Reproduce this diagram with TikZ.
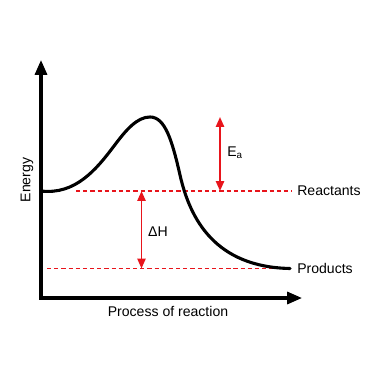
\documentclass[tikz,border=0pt]{standalone}
\usepackage{fontspec}
\setmainfont{Liberation Sans}
\usetikzlibrary{arrows.meta,positioning}
\definecolor{LevelRed}{HTML}{E8141B}

\begin{document}
\begin{tikzpicture}[x=0.025cm,y=-0.025cm,
    axis/.style={line width=2.2pt},
    level/.style={draw=LevelRed,line width=1pt,dash pattern=on 3pt off 2.1pt},
    gap/.style={draw=LevelRed,line width=1.3pt,{Triangle[length=7pt,width=5.8pt]}-{Triangle[length=7pt,width=5.8pt]}},
    lbl/.style={font=\fontsize{10}{12}\selectfont,inner sep=0pt}]
    \useasboundingbox (0,0) rectangle (380,380);
    % axes
    \coordinate (origin) at (41,298);
    \coordinate (ytip) at (41,60);
    \coordinate (xtip) at (302,298);
    \draw[axis,line join=miter,{Triangle[length=10.5pt,width=8.5pt]}-{Triangle[length=10.5pt,width=8.5pt]}] (ytip) -- (origin) -- (xtip);
    \node[lbl,rotate=90] (energy) at (27,180) {Energy};
    \node[lbl] (process) at (168,311) {Process of reaction};
    % energy levels
    \node[lbl,anchor=west] (reactants) at (297,191) {Reactants};
    \node[lbl,anchor=west] (products) at (297,268.5) {Products};
    \coordinate (rstart) at (76,191);
    \coordinate (pstart) at (47,268.5);
    \draw[level] (rstart) -- (292,191);
    \draw[level] (pstart) -- (273,268.5);
    % reaction curve
    \draw[line width=2.2pt,line cap=round] (41,191) .. controls (75,195) and (96,170) .. (114,146)
      .. controls (126,130) and (137,117) .. (150,117)
      .. controls (165,117) and (172,140) .. (180,175)
      .. controls (190,219) and (215,267) .. (290,268.5);
    % Ea and dH
    \coordinate (eatop) at (220,117);
    \coordinate (eabot) at (220,191);
    \coordinate (dhtop) at (141.5,191);
    \coordinate (dhbot) at (141.5,268.5);
    \draw[gap] (eatop) -- (eabot);
    \draw[gap] (dhtop) -- (dhbot);
    \node[lbl,anchor=west] (ea) at (227,153) {E\textsubscript{a}};
    \node[lbl] (dh) at (158,232) {ΔH};
\end{tikzpicture}
\end{document}
